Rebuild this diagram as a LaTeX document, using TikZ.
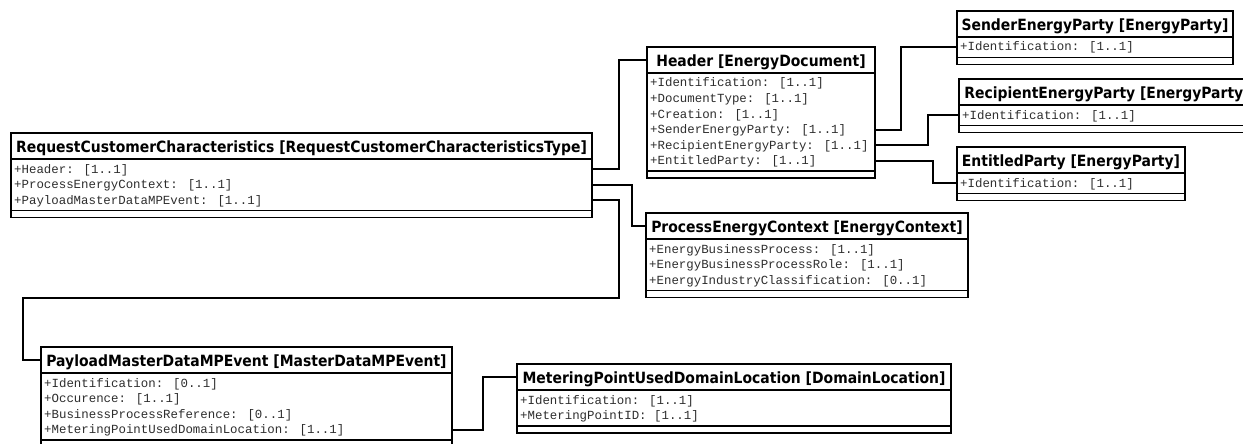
\documentclass[tikz,border=0pt]{standalone}
\usepackage{fontspec}
\newfontfamily\titlefont{DejaVu Sans}[FakeStretch=0.9]
\newfontfamily\attrfont{Liberation Mono}
\definecolor{attrgray}{HTML}{2E2E2E}
\tikzset{
  classbox/.style={draw=black, fill=white, line width=1.6pt, inner sep=0pt, outer sep=0pt, rectangle},
  sepline/.style={draw=black, line width=1.3pt},
  titletext/.style={anchor=base, inner sep=0pt, font=\titlefont\bfseries\fontsize{15.5}{18}\selectfont, text=black},
  attrtext/.style={anchor=base west, inner sep=0pt, font=\attrfont\fontsize{12.4}{14}\selectfont, text=attrgray},
  conn/.style={draw=black, line width=1.8pt, line join=miter},
}
% #1 name, #2 x, #3 top, #4 width, #5 number of attributes, #6 title, #7 attributes
\newcommand\umlclass[7]{%
  \pgfmathsetmacro\umlh{26+15.5*#5+5+7}%
  \node[classbox, minimum width=#4pt, minimum height=\umlh pt, anchor=north west] (#1) at (#2,#3) {};
  \draw[sepline] ([yshift=-26pt]#1.north west) -- ([yshift=-26pt]#1.north east);
  \draw[sepline] ([yshift=7pt]#1.south west) -- ([yshift=7pt]#1.south east);
  \node[titletext] (#1-t) at ([yshift=-19.5pt]#1.north) {#6};
  \coordinate (#1-tw) at ([yshift=-13pt]#1.north west);
  \foreach \a [count=\i from 0] in {#7} {%
    \pgfmathsetmacro\umlb{40+15.5*\i}%
    \pgfmathsetmacro\umlc{36.25+15.5*\i}%
    \node[attrtext] (#1-a\i) at ([xshift=3pt,yshift=-\umlb pt]#1.north west) {\a};
    \coordinate (#1-c\i) at ([yshift=-\umlc pt]#1.north east);
    \coordinate (#1-w\i) at ([yshift=-\umlc pt]#1.north west);
  }%
}
\begin{document}
\begin{tikzpicture}[x=1pt,y=-1pt]
\useasboundingbox (0,0) rectangle (1243,444);
\clip (0,0) rectangle (1243,444);
\fill[white] (0,0) rectangle (1243,444);

\umlclass{main}{11}{133}{581}{3}{RequestCustomerCharacteristics [RequestCustomerCharacteristicsType]}
  {+Header: [1..1], +ProcessEnergyContext: [1..1], +PayloadMasterDataMPEvent: [1..1]}
\umlclass{hdr}{647}{47}{228}{6}{Header [EnergyDocument]}
  {+Identification: [1..1], +DocumentType: [1..1], +Creation: [1..1], +SenderEnergyParty: [1..1], +RecipientEnergyParty: [1..1], +EntitledParty: [1..1]}
\umlclass{snd}{957}{11}{276}{1}{SenderEnergyParty [EnergyParty]}{+Identification: [1..1]}
\umlclass{rcp}{959}{79}{296}{1}{RecipientEnergyParty [EnergyParty]}{+Identification: [1..1]}
\umlclass{ent}{957}{147}{228}{1}{EntitledParty [EnergyParty]}{+Identification: [1..1]}
\umlclass{pec}{646}{213}{322}{3}{ProcessEnergyContext [EnergyContext]}
  {+EnergyBusinessProcess: [1..1], +EnergyBusinessProcessRole: [1..1], +EnergyIndustryClassification: [0..1]}
\umlclass{pay}{41}{347}{411}{4}{PayloadMasterDataMPEvent [MasterDataMPEvent]}
  {+Identification: [0..1], +Occurence: [1..1], +BusinessProcessReference: [0..1], +MeteringPointUsedDomainLocation: [1..1]}
\umlclass{met}{517}{364}{434}{2}{MeteringPointUsedDomainLocation [DomainLocation]}
  {+Identification: [1..1], +MeteringPointID: [1..1]}

\coordinate (paybend) at (23,298);
\draw[conn] (main-c0) -- ++(27,0) |- (hdr-tw);
\draw[conn] (main-c1) -- ++(40,0) |- (pec-tw);
\draw[conn] (main-c2) -- ++(27,0) |- (paybend) |- (pay-tw);
\draw[conn] (hdr-c3) -- ++(26,0) |- (snd-w0);
\draw[conn] (hdr-c4) -- ++(53,0) |- (rcp-w0);
\draw[conn] (hdr-c5) -- ++(58,0) |- (ent-w0);
\draw[conn] (pay-c3) -- ++(31,0) |- (met-tw);
\end{tikzpicture}
\end{document}
